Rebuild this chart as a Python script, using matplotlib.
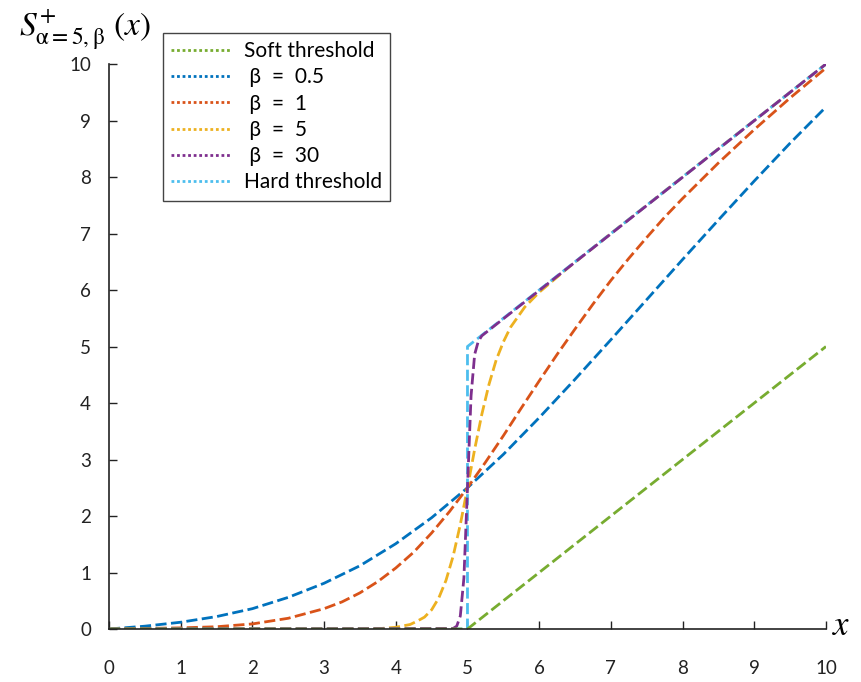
import matplotlib

matplotlib.use("Agg")
import matplotlib.pyplot as plt
from matplotlib.lines import Line2D

plt.rcParams["font.family"] = ["Lato", "DejaVu Sans"]
plt.rcParams["mathtext.fontset"] = "stix"

# values (S+ for alpha = 5)
soft_x = [0, 5, 10]
soft_y = [0, 0, 5]

b05_x = [0, 0.5, 1, 1.5, 2, 2.5, 3, 3.5, 4, 4.5, 5, 5.5, 6, 6.5, 7, 7.5, 8, 8.5, 9, 9.5, 10]
b05_y = [0, 0.05, 0.12, 0.22, 0.36, 0.56, 0.81, 1.12, 1.51, 1.97, 2.5, 3.09, 3.74, 4.42,
         5.12, 5.83, 6.54, 7.24, 7.93, 8.60, 9.24]

b1_x = [0, 0.5, 1, 1.5, 2, 2.5, 3, 3.25, 3.5, 3.75, 4, 4.25, 4.5, 4.75, 5, 5.25, 5.5, 5.75,
        6, 6.25, 6.5, 6.75, 7, 7.25, 7.5, 7.75, 8, 8.5, 9, 9.5, 10]
b1_y = [0, 0.01, 0.02, 0.04, 0.09, 0.19, 0.36, 0.48, 0.64, 0.84, 1.08, 1.36, 1.70, 2.08,
        2.5, 2.95, 3.42, 3.91, 4.39, 4.86, 5.31, 5.75, 6.17, 6.56, 6.93, 7.29, 7.62, 8.25,
        8.84, 9.40, 9.93]

b5_x = [0, 3.5, 3.8, 4, 4.2, 4.3, 4.4, 4.5, 4.6, 4.7, 4.8, 4.9, 5, 5.1, 5.2, 5.3, 5.4, 5.5,
        5.6, 5.8, 6, 6.4, 7, 10]
b5_y = [0, 0, 0.01, 0.03, 0.08, 0.14, 0.21, 0.34, 0.55, 0.86, 1.29, 1.85, 2.5, 3.18, 3.80,
        4.33, 4.76, 5.08, 5.34, 5.70, 5.96, 6.39, 7.0, 10]

b30_x = [0, 4.8, 4.85, 4.9, 4.95, 5, 5.05, 5.1, 5.15, 5.2, 10]
b30_y = [0, 0.01, 0.05, 0.23, 0.90, 2.5, 4.13, 4.86, 5.09, 5.19, 10]

hard_x = [0, 5, 5, 10]
hard_y = [0, 0, 5, 10]

labels = ["Soft threshold", " β  =  0.5", " β  =  1", " β  =  5", " β  =  30", "Hard threshold"]
colors = ["#77AC30", "#0072BD", "#D95319", "#EDB120", "#7E2F8E", "#4DBEEE"]

fig = plt.figure(figsize=(8.61, 6.82), dpi=100)
ax = fig.add_axes([0.1266, 0.0777, 0.8327, 0.8284])

dash = (4, 1.6)
lw = 2.0
ax.plot(b05_x, b05_y, color=colors[1], lw=lw, dashes=dash)
ax.plot(b1_x, b1_y, color=colors[2], lw=lw, dashes=dash)
ax.plot(b5_x, b5_y, color=colors[3], lw=lw, dashes=dash)
ax.plot(hard_x, hard_y, color=colors[5], lw=lw, dashes=dash)
ax.plot(b30_x, b30_y, color=colors[4], lw=lw, dashes=dash)
ax.plot(soft_x, soft_y, color=colors[0], lw=lw, dashes=dash)

ax.set_xlim(0, 10)
ax.set_ylim(0, 10)
ax.set_xticks(range(11))
ax.set_yticks(range(11))
for side in ["top", "right"]:
    ax.spines[side].set_visible(False)
for side in ["left", "bottom"]:
    ax.spines[side].set_linewidth(1.2)
    ax.spines[side].set_color("#222222")
ax.tick_params(axis="x", direction="in", length=6, width=1, pad=22, labelsize=13.5, colors="#222222")
ax.tick_params(axis="y", direction="in", length=6, width=1, pad=13, labelsize=13.5, colors="#222222")

handles = [Line2D([], [], color=c, lw=2, linestyle=(0, (1, 1))) for c in colors]
leg = ax.legend(handles, labels, loc="upper left", bbox_to_anchor=(0.189, 0.952),
                bbox_transform=fig.transFigure, borderaxespad=0, fontsize=15,
                handlelength=2.9, fancybox=False, edgecolor="#444444", framealpha=1,
                borderpad=0.4, labelspacing=0.3, handletextpad=0.6)
leg.get_frame().set_linewidth(1.0)

fig.text(0.022, 0.955, r"$S^{+}_{\mathrm{\alpha=5,\beta}}\ (x)$", fontsize=24, va="center", ha="left")
fig.text(0.966, 0.083, r"$x$", fontsize=25, va="center", ha="left")

fig.savefig("out.png", dpi=100)
